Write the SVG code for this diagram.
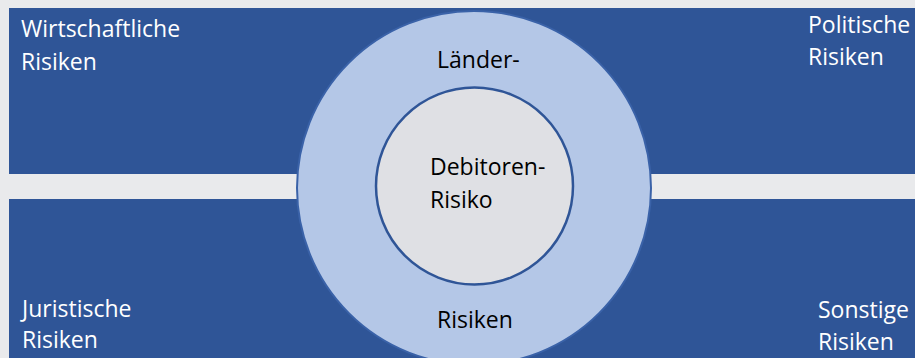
<svg xmlns="http://www.w3.org/2000/svg" width="915" height="358" viewBox="0 0 915 358">
  <style>
    .band { fill: #2f5597; }
    .wt { fill: #ffffff; font-family: "Open Sans", "Noto Sans", sans-serif; font-size: 23px; }
    .bt { fill: #000000; font-family: "Open Sans", "Noto Sans", sans-serif; font-size: 23px; }
    .outer { fill: #b4c7e7; stroke: #3a62a8; stroke-width: 2; }
    .inner { fill: #dfe0e4; stroke: #2f5597; stroke-width: 2.5; }
  </style>
  <rect x="0" y="0" width="915" height="358" fill="#e9eaec"/>
  <g id="wirtschaftliche">
    <rect class="band" x="9" y="8" width="466" height="166"/>
    <text class="wt" x="21" y="37">Wirtschaftliche</text>
    <text class="wt" x="21" y="70">Risiken</text>
  </g>
  <g id="politische">
    <rect class="band" x="474" y="8" width="441" height="166"/>
    <text class="wt" x="808" y="33">Politische</text>
    <text class="wt" x="808" y="65">Risiken</text>
  </g>
  <g id="juristische">
    <rect class="band" x="9" y="199" width="466" height="159"/>
    <text class="wt" x="22" y="317">Juristische</text>
    <text class="wt" x="22" y="348">Risiken</text>
  </g>
  <g id="sonstige">
    <rect class="band" x="474" y="199" width="441" height="159"/>
    <text class="wt" x="818" y="318">Sonstige</text>
    <text class="wt" x="818" y="350">Risiken</text>
  </g>
  <g id="laender">
    <circle class="outer" cx="474" cy="188" r="177"/>
    <text class="bt" x="437" y="68">Länder-</text>
    <text class="bt" x="437" y="328">Risiken</text>
  </g>
  <g id="debitoren">
    <circle class="inner" cx="474.5" cy="186" r="98.5"/>
    <text class="bt" x="430" y="175">Debitoren-</text>
    <text class="bt" x="430" y="208">Risiko</text>
  </g>
  <g id="connectors"/>
</svg>
